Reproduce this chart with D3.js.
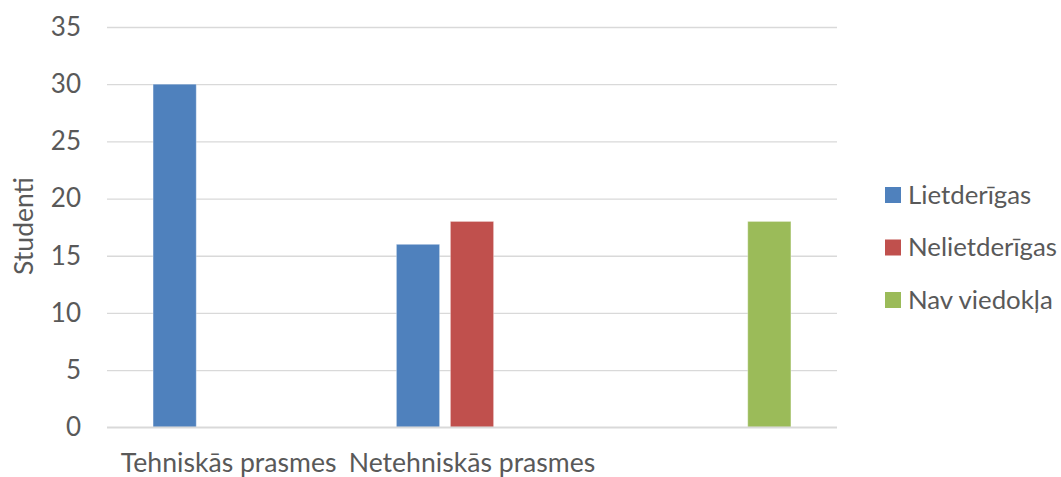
<!DOCTYPE html>
<html>
<head>
<meta charset="utf-8">
<script src="https://cdn.jsdelivr.net/npm/d3@7"></script>
<style>
  html, body { margin: 0; padding: 0; background: #ffffff; }
  svg { display: block; }
  text { font-family: Lato, "Open Sans", sans-serif; fill: #595959; }
</style>
</head>
<body>
<div id="chart"></div>
<script>
const categories = ["Tehniskās prasmes", "Netehniskās prasmes", ""];
const seriesNames = ["Lietderīgas", "Nelietderīgas", "Nav viedokļa"];
const lietderigas = [30, 16, 0];
const nelietderigas = [0, 18, 0];
const navViedokla = [0, 0, 18];
const yTicks = [0, 5, 10, 15, 20, 25, 30, 35];
const colors = ["#4f81bd", "#c0504d", "#9bbb59"];

const seriesValues = [lietderigas, nelietderigas, navViedokla];

const W = 1061, H = 477;
const margin = { left: 107, right: 224, top: 27, bottom: 50 };

const svg = d3.select("#chart").append("svg")
  .attr("width", W).attr("height", H);

const x0 = d3.scaleBand()
  .domain(categories.map((c, i) => i))
  .range([margin.left, W - margin.right])
  .padding(0);

const groupW = 162;
const x1 = d3.scaleBand()
  .domain(seriesNames)
  .range([x0.bandwidth() / 2 - groupW / 2, x0.bandwidth() / 2 + groupW / 2])
  .paddingInner(0.2)
  .paddingOuter(0.1);

const y = d3.scaleLinear()
  .domain([0, 35])
  .range([427.3, margin.top]);

// gridlines
const yAxis = d3.axisLeft(y).tickValues(yTicks).tickSize(-(W - margin.right - margin.left)).tickPadding(26);
const gy = svg.append("g")
  .attr("transform", `translate(${margin.left},0)`)
  .call(yAxis);
gy.select(".domain").remove();
gy.selectAll(".tick line").attr("stroke", "#d9d9d9").attr("stroke-width", 1.3);
gy.selectAll(".tick text")
  .attr("font-size", 26)
  .style("font-family", "Lato, 'Open Sans', sans-serif")
  .attr("fill", "#595959");

// bars
const groups = svg.append("g").selectAll("g")
  .data(categories.map((c, i) => i))
  .join("g")
  .attr("transform", i => `translate(${x0(i)},0)`);

groups.selectAll("rect")
  .data(i => seriesNames.map((s, k) => ({ s, k, v: seriesValues[k][i] })))
  .join("rect")
  .filter(d => d.v > 0)
  .attr("x", d => x1(d.s))
  .attr("width", x1.bandwidth())
  .attr("y", d => y(d.v))
  .attr("height", d => y(0) - y(d.v))
  .attr("fill", d => colors[d.k])
  .attr("stroke", "rgba(255,255,255,0.35)")
  .attr("stroke-width", 1);

// baseline
svg.append("line")
  .attr("x1", margin.left).attr("x2", W - margin.right)
  .attr("y1", y(0)).attr("y2", y(0))
  .attr("stroke", "#d9d9d9").attr("stroke-width", 1.5);

// x axis labels
const xAxis = d3.axisBottom(x0).tickFormat(i => categories[i]).tickSize(0).tickPadding(0);
const gx = svg.append("g").attr("transform", `translate(0,472)`).call(xAxis);
gx.select(".domain").remove();
gx.selectAll(".tick text")
  .attr("y", 0).attr("dy", 0)
  .attr("font-size", 26.6)
  .style("font-family", "Lato, 'Open Sans', sans-serif")
  .attr("fill", "#595959");

// y title
svg.append("text")
  .attr("transform", `translate(33,226) rotate(-90)`)
  .attr("text-anchor", "middle")
  .attr("font-size", 26.5)
  .text("Studenti");

// legend
const legend = svg.append("g").attr("transform", "translate(885,0)");
const ly = d3.scalePoint().domain(seriesNames).range([194.5, 299.5]);
const li = legend.selectAll("g").data(seriesNames).join("g")
  .attr("transform", d => `translate(0,${ly(d)})`);
li.append("rect")
  .attr("x", 0).attr("y", -7.5).attr("width", 16).attr("height", 16)
  .attr("fill", (d, i) => colors[i]);
li.append("text")
  .attr("x", 23).attr("y", 9)
  .attr("font-size", 25.8)
  .text(d => d);
</script>
</body>
</html>
